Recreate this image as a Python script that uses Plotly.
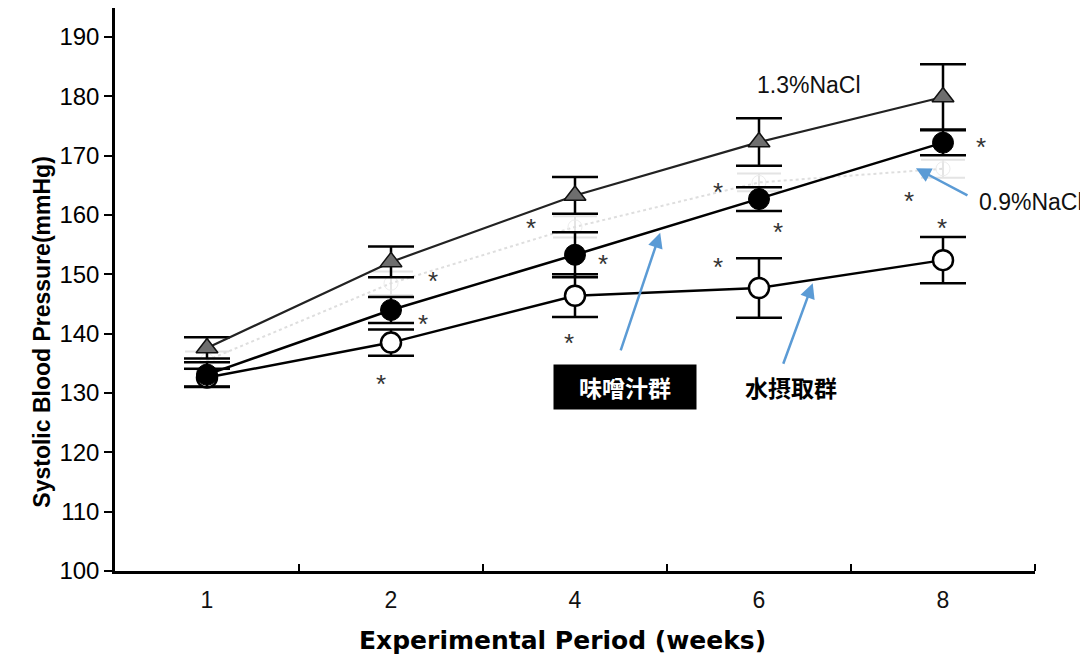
import plotly.graph_objects as go

weeks = ["1", "2", "4", "6", "8"]

# 1.3% NaCl group (triangles)
nacl13 = [137.6, 152.1, 163.3, 172.3, 179.9]
nacl13_err = [1.8, 2.6, 3.1, 4.0, 5.5]

# 0.9% NaCl group (filled circles)
nacl09 = [133.1, 144.0, 153.3, 162.7, 172.2]
nacl09_err = [2.1, 2.2, 3.8, 2.0, 2.1]

# Miso soup group (faint grey dotted)
miso = [135.5, 148.5, 158.0, 165.5, 167.8]
miso_err = [1.5, 2.0, 1.8, 1.5, 1.5]

# Water group (open circles)
water = [132.6, 138.5, 146.4, 147.7, 152.4]
water_err = [1.5, 2.2, 3.6, 5.0, 3.9]

# significance markers (x index, y value)
star_x = [1.226, 1.172, 0.943, 1.760, 2.153, 1.967, 2.779, 3.101, 2.779, 3.815, 4.207, 3.995]
star_y = [149.9, 142.6, 132.5, 158.8, 152.8, 139.4, 164.9, 158.1, 152.2, 163.4, 172.5, 158.8]

FONT = "Liberation Sans, Arial, sans-serif"
WIDE = "DejaVu Sans, Liberation Sans, sans-serif"
CJK = "Noto Sans CJK JP"
BLUE = "#5b9bd5"

fig = go.Figure()

xs = list(range(len(weeks)))

fig.add_trace(go.Scatter(
    x=xs, y=miso, mode="lines+markers",
    line=dict(color="#dedede", width=2, dash="dot"),
    marker=dict(symbol="circle", size=14, color="rgba(0,0,0,0)",
                line=dict(color="#ececec", width=1)),
    error_y=dict(type="data", array=miso_err, color="#e4e4e4", thickness=2, width=22),
    showlegend=False))

fig.add_trace(go.Scatter(
    x=xs, y=nacl13, mode="lines+markers",
    line=dict(color="#222222", width=2.2),
    marker=dict(symbol="triangle-up", size=19, color="#6e6e6e",
                line=dict(color="#111111", width=1.5)),
    error_y=dict(type="data", array=nacl13_err, color="#000000", thickness=2.5, width=23),
    showlegend=False))

fig.add_trace(go.Scatter(
    x=xs, y=water, mode="lines+markers",
    line=dict(color="#000000", width=2.5),
    marker=dict(symbol="circle", size=20, color="#ffffff",
                line=dict(color="#000000", width=2.5)),
    error_y=dict(type="data", array=water_err, color="#000000", thickness=2.5, width=23),
    showlegend=False))

fig.add_trace(go.Scatter(
    x=xs, y=nacl09, mode="lines+markers",
    line=dict(color="#000000", width=2.5),
    marker=dict(symbol="circle", size=21, color="#000000",
                line=dict(color="#000000", width=1)),
    error_y=dict(type="data", array=nacl09_err, color="#000000", thickness=2.5, width=23),
    showlegend=False))

annotations = []
for sx, sy in zip(star_x, star_y):
    annotations.append(dict(x=sx, y=sy, xref="x", yref="y", text="*", showarrow=False,
                            font=dict(family=FONT, size=26, color="#333333"), yshift=-6))

annotations += [
    dict(x=3.27, y=181.9, xref="x", yref="y", text="1.3%NaCl", showarrow=False,
         font=dict(family=FONT, size=23, color="#111111")),
    dict(x=4.48, y=162.2, xref="x", yref="y", text="0.9%NaCl", showarrow=False,
         font=dict(family=FONT, size=23, color="#111111")),
    dict(x=2.463, y=157.0, xref="x", yref="y", ax=-40, ay=119, text="", showarrow=True,
         arrowhead=2, arrowsize=1.2, arrowwidth=2.5, arrowcolor=BLUE),
    dict(x=3.292, y=148.5, xref="x", yref="y", ax=-30, ay=82, text="", showarrow=True,
         arrowhead=2, arrowsize=1.2, arrowwidth=2.5, arrowcolor=BLUE),
    dict(x=3.853, y=167.9, xref="x", yref="y", ax=53, ay=28, text="", showarrow=True,
         arrowhead=2, arrowsize=1.2, arrowwidth=2.5, arrowcolor=BLUE),
    dict(x=2.272, y=131.1, xref="x", yref="y", text="<b>味噌汁群</b>", showarrow=False,
         bgcolor="#000000", width=136, height=38, borderpad=3,
         font=dict(family=CJK, size=23, color="#ffffff")),
    dict(x=3.172, y=131.1, xref="x", yref="y", text="<b>水摂取群</b>", showarrow=False,
         font=dict(family=CJK, size=23, color="#000000")),
    dict(x=-0.0957, y=0.425, xref="paper", yref="paper", text="<b>Systolic Blood Pressure(mmHg)</b>",
         showarrow=False, textangle=-90, font=dict(family=FONT, size=23, color="#000000")),
    dict(x=0.486, y=-0.124, xref="paper", yref="paper", text="<b>Experimental Period (weeks)</b>",
         showarrow=False, yanchor="middle",
         font=dict(family=WIDE, size=25, color="#000000")),
]

fig.update_layout(
    width=1080, height=653,
    margin=dict(l=107, r=53, t=0, b=90),
    paper_bgcolor="#ffffff", plot_bgcolor="#ffffff",
    showlegend=False,
    annotations=annotations,
    xaxis=dict(
        type="linear", range=[-0.5, 4.5],
        tickvals=xs, ticktext=weeks,
        ticks="", showgrid=False, zeroline=False,
        showline=True, linecolor="#000000", linewidth=2.5,
        ticklabelstandoff=7,
        tickfont=dict(family=FONT, size=23, color="#111111"),
        minor=dict(tickvals=[0.5, 1.5, 2.5, 3.5, 4.5], ticks="inside", ticklen=7,
                   tickcolor="#000000", tickwidth=2),
    ),
    yaxis=dict(
        range=[100, 194.9], tickvals=list(range(100, 191, 10)),
        ticks="outside", ticklen=8, tickwidth=2, tickcolor="#000000",
        showgrid=False, zeroline=False,
        showline=True, linecolor="#000000", linewidth=2.5,
        tickfont=dict(family=FONT, size=24, color="#000000"),
    ),
)

fig.write_html("out.html")
